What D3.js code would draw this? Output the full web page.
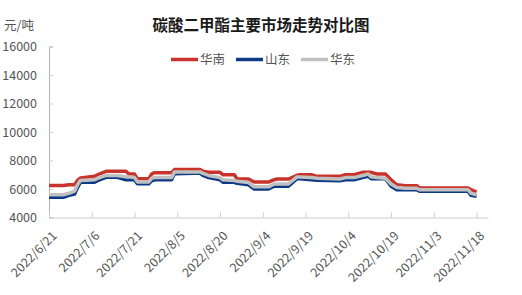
<!DOCTYPE html>
<html>
<head>
<meta charset="utf-8">
<script src="https://cdn.jsdelivr.net/npm/d3@7"></script>
<style>
	body { margin: 0; background: #fff; }
	svg { display: block; font-family: "Noto Sans CJK SC", "Noto Sans", sans-serif; }
</style>
</head>
<body>
<svg id="chart"></svg>
<script>
const width = 522;
const height = 295;

// key dates (price changes)
const dates = ['2022/6/21', '2022/6/26', '2022/6/28', '2022/6/30', '2022/7/1', '2022/7/2', '2022/7/7', '2022/7/8',
	'2022/7/11', '2022/7/15', '2022/7/18', '2022/7/19', '2022/7/21', '2022/7/22', '2022/7/26', '2022/7/27', '2022/7/28',
	'2022/8/3', '2022/8/4', '2022/8/11', '2022/8/13', '2022/8/14', '2022/8/16', '2022/8/20', '2022/8/21', '2022/8/25',
	'2022/8/26', '2022/8/30', '2022/9/1', '2022/9/6', '2022/9/8', '2022/9/9', '2022/9/13', '2022/9/16', '2022/9/17',
	'2022/9/21', '2022/9/23', '2022/10/1', '2022/10/3', '2022/10/6', '2022/10/9', '2022/10/11', '2022/10/12',
	'2022/10/14', '2022/10/17', '2022/10/19', '2022/10/21', '2022/10/24', '2022/10/28', '2022/10/29', '2022/11/15',
	'2022/11/16', '2022/11/18'];

// 华南
const southChina = [6250, 6250, 6300, 6300, 6600, 6770, 6890, 7000,
	7240, 7240, 7240, 7050, 7050, 6720, 6720, 7050, 7145,
	7145, 7360, 7360, 7360, 7240, 7170, 7170, 7000, 7000,
	6700, 6700, 6490, 6490, 6650, 6700, 6700, 6960, 7000,
	7000, 6890, 6890, 7000, 7000, 7170, 7170, 7170,
	7050, 7050, 6650, 6300, 6230, 6230, 6070, 6070,
	5960, 5790];
// 山东
const shandong = [5420, 5420, 5550, 5650, 6100, 6470, 6470, 6580,
	6820, 6820, 6650, 6650, 6650, 6370, 6370, 6580, 6650,
	6650, 7070, 7100, 7100, 6960, 6800, 6650, 6470, 6470,
	6400, 6300, 6000, 6000, 6190, 6190, 6190, 6720, 6720,
	6650, 6610, 6580, 6650, 6650, 6800, 6890, 6720,
	6720, 6720, 6190, 5950, 5950, 5950, 5840, 5840,
	5560, 5490];
// 华东
const eastChina = [5600, 5600, 5700, 5850, 6300, 6600, 6650, 6750,
	6950, 6950, 6850, 6850, 6800, 6500, 6500, 6750, 6800,
	6800, 7200, 7200, 7200, 7100, 6950, 6800, 6650, 6600,
	6550, 6450, 6150, 6150, 6350, 6350, 6350, 6850, 6850,
	6800, 6750, 6700, 6800, 6800, 6950, 7050, 6850,
	6800, 6750, 6350, 6100, 6050, 6050, 5950, 5950,
	5700, 5600];

const seriesNames = ['华南', '山东', '华东'];
const seriesColors = ['#c9332c', '#0c3a86', '#c0c0c0'];
const yTicks = [4000, 6000, 8000, 10000, 12000, 14000, 16000];
const xTickLabels = ['2022/6/21', '2022/7/6', '2022/7/21', '2022/8/5', '2022/8/20', '2022/9/4',
	'2022/9/19', '2022/10/4', '2022/10/19', '2022/11/3', '2022/11/18'];

const parse = d3.timeParse('%Y/%m/%d');
const margin = { left: 49, right: 34, top: 46.5, bottom: 77.5 };

const x = d3.scaleTime()
	.domain([parse('2022/6/21'), parse('2022/11/22')])
	.range([margin.left, width - margin.right]);
const y = d3.scaleLinear()
	.domain([4000, 16000])
	.range([height - margin.bottom, margin.top]);

const svg = d3.select('#chart')
	.attr('width', width)
	.attr('height', height);

// title & unit
svg.append('text')
	.attr('x', 261).attr('y', 31)
	.attr('text-anchor', 'middle')
	.attr('font-size', 15.5)
	.attr('font-weight', 'bold')
	.attr('fill', '#1a1a1a')
	.text('碳酸二甲酯主要市场走势对比图');
svg.append('text')
	.attr('x', 4).attr('y', 30)
	.attr('font-size', 12.5)
	.attr('fill', '#555')
	.text('元/吨');

// y axis
const yAxis = svg.append('g')
	.attr('transform', `translate(${margin.left},0)`)
	.call(d3.axisLeft(y).tickValues(yTicks).tickSize(-4).tickPadding(12).tickFormat(d3.format('d')));
yAxis.select('.domain').attr('stroke', '#b8b0a0');
yAxis.selectAll('.tick line').attr('stroke', '#ccc');
yAxis.selectAll('.tick text').attr('fill', '#555').attr('font-size', 12.5)
	.attr('font-family', '"Noto Sans CJK SC", sans-serif');

// x axis
const xAxis = svg.append('g')
	.attr('transform', `translate(0,${height - margin.bottom})`)
	.call(d3.axisBottom(x).tickValues(xTickLabels.map(parse)).tickSize(-5).tickSizeOuter(0).tickFormat(d3.timeFormat('%Y/%-m/%-d')));
xAxis.select('.domain').attr('stroke', '#ccc');
xAxis.selectAll('.tick line').attr('stroke', '#ccc');
xAxis.selectAll('.tick text')
	.attr('fill', '#555')
	.attr('font-size', 12.5)
	.attr('font-family', '"Noto Sans CJK SC", sans-serif')
	.attr('text-anchor', 'end')
	.attr('dy', 0)
	.attr('transform', 'translate(6,17) rotate(-45)');

// lines
const allSeries = [southChina, shandong, eastChina];
const line = d3.line()
	.x(d => x(d.date))
	.y(d => y(d.value));

allSeries.forEach((vals, i) => {
	const pts = dates.map((dt, j) => ({ date: parse(dt), value: vals[j] }));
	svg.append('path')
		.datum(pts)
		.attr('fill', 'none')
		.attr('stroke', seriesColors[i])
		.attr('stroke-width', 3.5)
		.attr('stroke-linejoin', 'round')
		.attr('d', line);
});

// legend
const legendX = [171, 236, 301];
const legend = svg.append('g');
seriesNames.forEach((name, i) => {
	legend.append('line')
		.attr('x1', legendX[i]).attr('x2', legendX[i] + 27)
		.attr('y1', 59.5).attr('y2', 59.5)
		.attr('stroke', seriesColors[i])
		.attr('stroke-width', 3.5);
	legend.append('text')
		.attr('x', legendX[i] + 29).attr('y', 64)
		.attr('font-size', 12.5)
		.attr('fill', '#555')
		.text(name);
});
</script>
</body>
</html>
